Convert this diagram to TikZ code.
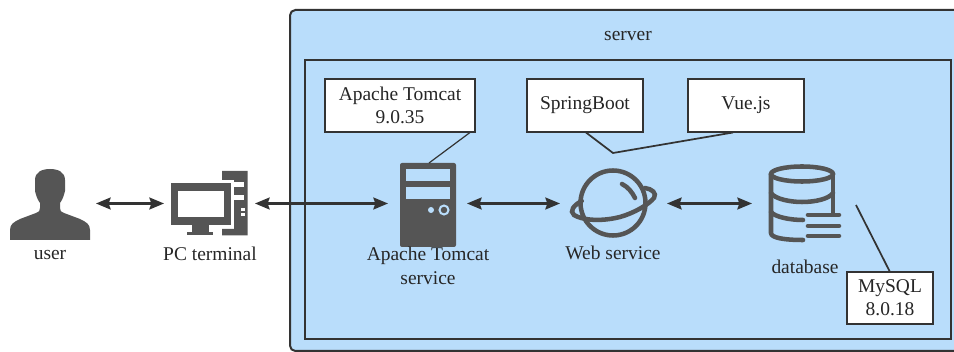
\documentclass[tikz,border=0pt]{standalone}
\usepackage{fontspec}
\setmainfont{Liberation Serif}
\usetikzlibrary{arrows.meta}
\definecolor{panel}{HTML}{B9DDFB}
\definecolor{ink}{HTML}{333333}
\definecolor{icon}{HTML}{555555}
\definecolor{txt}{HTML}{262626}
\tikzset{
  lbl/.style={font=\fontsize{14.6pt}{18pt}\selectfont,text=txt,align=center,inner sep=0pt},
  whitebox/.style={draw=ink,line width=1.5pt,fill=white,lbl,anchor=center},
  biarrow/.style={draw=ink,line width=1.6pt,{Stealth[length=11pt,width=9pt,inset=1.5pt]}-{Stealth[length=11pt,width=9pt,inset=1.5pt]}},
  link/.style={draw=ink,line width=1.3pt},
  slot/.style={draw=none,inner sep=0pt,outer sep=0pt},
  stroke/.style={draw=icon,line width=3.4pt,line cap=round,fill=none}
}
\begin{document}
\begin{tikzpicture}[x=0.75pt,y=-0.75pt]
\useasboundingbox (0,0) rectangle (954,352);
\clip (0,0) rectangle (954,352);
% panels
\draw[ink,line width=1.5pt,fill=panel,rounded corners=4pt] (290,10) rectangle (975,351);
\draw[ink,line width=1.5pt] (305,60) rectangle (951,339);

% icon slots used by the connectors
\node[slot,minimum width=69pt,minimum height=52pt] (user) at (50,203.5) {};
\node[slot,minimum width=68.25pt,minimum height=50pt] (pc) at (209.5,203.5) {};
\node[slot,minimum width=59.25pt,minimum height=63pt] (srv) at (427.5,203.5) {};
\node[slot,minimum width=80.25pt,minimum height=53pt] (web) at (613.5,203.5) {};
\node[slot,minimum width=72pt,minimum height=58pt] (db) at (800,203.5) {};

% user
\fill[icon] (10,240) -- (10,230) .. controls (10,224) and (14,222) .. (20,219)
  -- (36,213) .. controls (39,212) and (40,211) .. (40,208) -- (40,203)
  .. controls (37,199) and (36,195) .. (35,191) -- (35,180)
  .. controls (35,172) and (42,169) .. (50,169)
  .. controls (58,169) and (65,172) .. (65,180) -- (65,191)
  .. controls (64,195) and (63,199) .. (60,203) -- (60,208)
  .. controls (60,211) and (61,212) .. (64,213) -- (80,219)
  .. controls (86,222) and (90,224) .. (90,230) -- (90,240) -- cycle;

% PC
\fill[icon] (171,183) rectangle (231,225);
\fill[white] (178,191) rectangle (224,217);
\fill[icon] (192,225) rectangle (209,232);
\fill[icon] (187,232) rectangle (213,235.5);
\fill[icon] (222,171) -- (247.5,171) -- (247.5,235.5) -- (222,235.5) -- (222,229) -- (234,229) -- (234,180) -- (222,180) -- cycle;
\fill[white] (234,182) rectangle (243.5,187);
\fill[white] (234,195) rectangle (243.5,200);
\fill[white] (240.5,208) rectangle (245,211);
\fill[white] (240.5,213) rectangle (245,216);

% server
\fill[icon,rounded corners=1.5pt] (400,163) rectangle (456,247);
\fill[panel] (406,169) rectangle (450,181);
\fill[panel] (406,187) rectangle (450,199);
\fill[panel] (431,210) circle (3);
\draw[panel,line width=1.5pt] (444,210) circle (4.5);

% planet
\draw[stroke] (613,203) circle (32.5);
\draw[stroke] (581.7,201) .. controls (574,205) and (569,211) .. (574,215)
  .. controls (582,220) and (600,222) .. (620,217)
  .. controls (634,213) and (648,205) .. (654,198)
  .. controls (657,193) and (652,189) .. (645,188);
\draw[stroke] (622,184) .. controls (628,187) and (632,192) .. (635,198);

% database
\draw[stroke] (802,174) ellipse (31 and 7.5);
\draw[stroke] (771,174) -- (771,233) .. controls (771,238) and (785,240) .. (803,240);
\draw[stroke] (771,193) .. controls (775,199) and (790,202) .. (802,202) .. controls (815,202) and (829,199) .. (833,193);
\draw[stroke] (771,212) .. controls (775,217) and (790,220) .. (803,220);
\draw[stroke] (833,174) -- (833,214);
\draw[stroke] (808,215) -- (839,215);
\draw[stroke] (808,226) -- (839,226);
\draw[stroke] (808,236) -- (839,236);

% boxes
\node[whitebox,minimum width=113pt,minimum height=39.5pt] (tomcatbox) at (400,105.5) {Apache Tomcat\\[-0.5pt]9.0.35};
\node[whitebox,minimum width=87.5pt,minimum height=39.5pt] (springbox) at (585,105.5) {SpringBoot};
\node[whitebox,minimum width=87.5pt,minimum height=39.5pt] (vuebox) at (746,105.5) {Vue.js};
\node[whitebox,minimum width=65pt,minimum height=39pt] (mysqlbox) at (890,298) {MySQL\\[-0.5pt]8.0.18};

% labels
\node[lbl] (serverlbl) at (628,36) {server};
\node[lbl] (userlbl) at (50,255) {user};
\node[lbl] (pclbl) at (210,254) {PC terminal};
\node[lbl] (srvlbl) at (428,266) {Apache Tomcat\\service};
\node[lbl] (weblbl) at (613,253) {Web service};
\node[lbl] (dblbl) at (805,267) {database};

% links
\coordinate (tomcatout) at (470,132.5);
\coordinate (tomcatin) at (429,163);
\coordinate (springout) at (586,132.5);
\coordinate (join) at (613,153);
\coordinate (vueout) at (733,132.5);
\coordinate (dbout) at (856,205);
\coordinate (mysqlin) at (890,272);
\draw[link,line width=0.9pt] (tomcatout) -- (tomcatin);
\draw[link] (springout) -- (join) -- (vueout);
\draw[link] (dbout) -- (mysqlin);

% arrows
\draw[biarrow] (user) -- (pc);
\draw[biarrow] (pc) -- (srv);
\draw[biarrow] (srv) -- (web);
\draw[biarrow] (web) -- (db);
\end{tikzpicture}
\end{document}
